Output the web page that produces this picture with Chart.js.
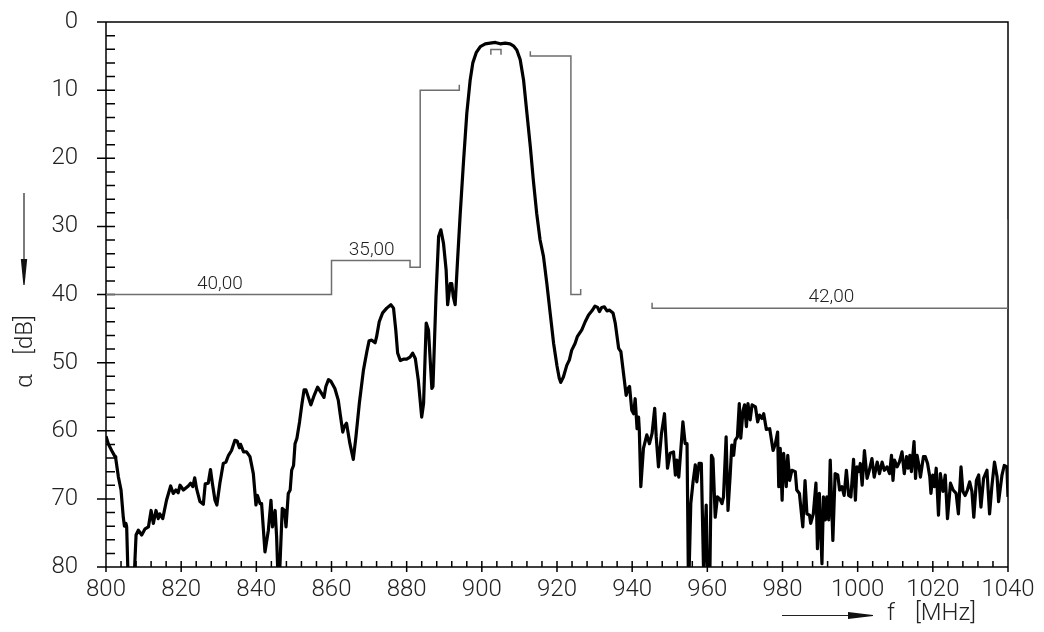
<!DOCTYPE html>
<html>
<head>
<meta charset="utf-8">
<script src="https://cdn.jsdelivr.net/npm/chart.js@4/dist/chart.umd.min.js"></script>
<style>
  html, body { margin: 0; padding: 0; background: #fff; }
  canvas { display: block; }
</style>
</head>
<body>
<canvas id="chart" width="1044" height="632"></canvas>
<script>
// measured attenuation curve, f in MHz, alpha in dB (values > 80 run off the axis)
const freq = [
  800.0, 800.6, 801.5, 802.4, 802.6, 803.3, 804.0, 804.6, 804.9, 805.3, 805.5, 806.0, 807.3, 808.0, 808.6, 809.5,
  810.4, 811.3, 812.0, 812.6, 813.3, 813.9, 814.3, 815.1, 816.1, 817.2, 817.9, 818.6, 819.2, 819.7, 820.6, 821.9,
  822.5, 823.1, 823.6, 824.1, 825.0, 825.9, 826.4, 827.2, 827.8, 828.3, 829.0, 829.5, 830.3, 831.2, 831.9, 832.6,
  833.4, 834.3, 834.9, 835.5, 835.8, 836.6, 837.4, 838.3, 839.2, 839.9, 840.3, 841.0, 841.4, 842.3, 843.2, 843.9,
  844.3, 845.0, 845.4, 845.9, 846.3, 846.9, 847.5, 847.9, 848.5, 849.0, 849.4, 849.9, 850.3, 850.8, 851.5, 852.1,
  852.7, 853.2, 854.5, 855.4, 856.3, 857.1, 858.0, 858.5, 859.2, 859.8, 860.9, 861.8, 862.3, 863.0, 863.4, 864.0,
  864.9, 865.8, 866.5, 867.4, 868.5, 869.4, 870.0, 870.7, 871.6, 872.0, 872.7, 873.6, 874.7, 875.8, 876.5, 877.1,
  877.6, 878.3, 879.1, 880.0, 880.9, 881.6, 882.3, 883.1, 884.0, 884.5, 885.2, 885.8, 886.7, 887.0, 887.8, 888.5,
  889.1, 889.8, 890.5, 890.9, 891.6, 892.0, 892.4, 892.9, 893.5, 894.2, 895.1, 896.0, 896.9, 897.6, 898.5, 899.6,
  900.9, 902.2, 903.6, 904.9, 906.2, 907.5, 908.4, 909.3, 910.2, 911.1, 912.0, 912.9, 913.7, 914.6, 915.5, 916.4,
  917.3, 918.2, 919.1, 920.0, 920.6, 921.0, 921.7, 922.6, 923.3, 923.9, 924.8, 925.4, 926.6, 927.5, 928.4, 929.3,
  930.1, 930.8, 931.3, 931.9, 932.6, 933.3, 934.0, 934.9, 935.5, 936.4, 937.0, 937.7, 938.4, 938.9, 939.3, 939.9,
  940.4, 940.8, 941.3, 941.7, 941.9, 942.3, 943.0, 943.9, 944.6, 945.3, 946.0, 946.4, 947.0, 947.8, 948.6, 949.4,
  950.1, 951.0, 951.5, 951.9, 952.4, 953.5, 954.1, 954.6, 955.0, 955.6, 956.2, 956.8, 957.2, 957.8, 958.4, 959.0,
  959.7, 960.1, 960.6, 961.1, 961.5, 962.1, 962.7, 963.3, 963.9, 964.3, 965.0, 965.5, 966.1, 966.5, 967.0, 967.4,
  968.0, 968.5, 968.9, 969.5, 969.9, 970.4, 970.8, 971.4, 971.9, 972.8, 973.4, 973.9, 974.5, 975.0, 975.7, 976.6,
  977.5, 978.1, 978.7, 979.0, 979.4, 979.9, 980.3, 981.0, 981.4, 981.9, 982.5, 983.4, 983.8, 984.5, 985.4, 986.0,
  986.5, 987.2, 987.5, 988.2, 988.9, 989.3, 989.8, 990.5, 990.9, 991.4, 991.8, 992.3, 992.7, 993.4, 994.0, 994.7,
  995.2, 995.8, 996.4, 997.0, 997.6, 998.2, 998.9, 999.4, 999.8, 1000.3, 1000.7, 1001.2, 1001.8, 1002.5, 1003.1, 1003.8,
  1004.4, 1005.2, 1005.8, 1006.5, 1007.1, 1007.8, 1008.5, 1009.0, 1009.4, 1009.8, 1010.5, 1011.1, 1011.8, 1012.4, 1013.0, 1013.4,
  1013.9, 1014.3, 1015.0, 1015.4, 1015.8, 1016.3, 1016.7, 1017.5, 1018.0, 1018.6, 1019.2, 1019.5, 1020.0, 1020.4, 1020.9, 1021.5,
  1022.0, 1022.7, 1023.3, 1023.9, 1024.7, 1025.4, 1026.2, 1026.8, 1027.5, 1028.0, 1028.6, 1029.2, 1029.8, 1030.4, 1030.9, 1031.6,
  1032.2, 1032.8, 1033.5, 1034.4, 1035.1, 1035.7, 1036.4, 1037.1, 1037.5, 1038.4, 1039.0, 1039.7, 1040.0
];
const atten = [
  60.8, 61.9, 62.9, 63.8, 64.1, 66.8, 68.7, 72.7, 74.0, 73.6, 74.1, 84, 84, 75.3, 74.6, 75.3,
  74.4, 74.1, 71.7, 73.6, 71.7, 72.9, 72.2, 72.9, 70.2, 68.1, 69.2, 68.7, 69.1, 68.0, 68.7, 68.1,
  67.7, 68.2, 66.9, 68.5, 70.4, 70.8, 67.8, 67.7, 65.7, 67.7, 70.2, 70.9, 67.7, 64.8, 64.6, 63.6,
  62.9, 61.4, 61.5, 62.5, 62.0, 63.1, 63.1, 63.8, 66.3, 70.9, 69.5, 70.7, 70.7, 77.8, 74.6, 70.2,
  74.1, 71.7, 75.6, 84, 79.5, 71.4, 71.7, 74.1, 69.2, 68.7, 65.8, 65.1, 61.9, 61.1, 58.7, 56.2,
  54.0, 54.0, 56.2, 54.8, 53.6, 54.3, 55.1, 53.5, 52.5, 52.7, 53.8, 55.5, 57.5, 60.2, 59.4, 58.9,
  61.9, 64.2, 60.9, 56.0, 51.1, 48.4, 46.8, 46.7, 47.1, 46.2, 44.0, 42.7, 42.0, 41.5, 42.0, 45.2,
  48.6, 49.7, 49.5, 49.5, 49.2, 48.6, 49.4, 52.6, 58.0, 56.0, 44.2, 45.2, 53.8, 53.5, 40.3, 31.5,
  30.5, 32.5, 36.4, 41.5, 38.4, 38.4, 40.3, 41.5, 35.4, 28.6, 20.7, 13.4, 8.5, 6.0, 4.5, 3.6,
  3.2, 3.1, 3.0, 3.2, 3.1, 3.2, 3.5, 4.1, 5.5, 8.5, 13.4, 18.3, 23.2, 28.1, 32.0, 34.4,
  38.4, 42.8, 47.2, 50.5, 52.3, 52.9, 52.1, 50.4, 49.6, 48.2, 47.2, 46.2, 45.2, 44.0, 43.0, 42.4,
  41.7, 41.9, 42.5, 41.9, 41.8, 42.4, 42.3, 42.7, 44.2, 47.9, 48.4, 51.6, 54.8, 53.8, 53.5, 57.0,
  57.5, 55.3, 59.7, 58.0, 59.9, 68.2, 62.6, 60.6, 61.9, 60.4, 56.7, 60.9, 65.3, 60.4, 57.5, 65.5,
  63.3, 63.1, 66.5, 64.3, 66.8, 58.7, 61.9, 61.9, 84, 70.7, 67.5, 65.0, 67.5, 64.8, 64.8, 80.5,
  70.9, 84, 84, 63.6, 64.1, 72.7, 69.7, 70.0, 70.7, 69.7, 60.9, 71.7, 66.3, 62.1, 63.6, 61.4,
  60.9, 56.0, 61.1, 57.0, 56.2, 59.4, 56.0, 58.4, 56.2, 56.5, 58.7, 57.7, 58.2, 57.5, 59.8, 59.7,
  62.9, 61.9, 60.2, 68.2, 62.6, 70.2, 63.3, 68.2, 63.6, 67.3, 65.8, 66.0, 68.7, 69.2, 74.1, 67.3,
  72.2, 72.4, 73.6, 72.2, 67.7, 77.3, 69.2, 79.5, 69.7, 73.1, 69.7, 73.1, 64.3, 76.1, 66.3, 66.5,
  68.7, 68.2, 69.5, 65.8, 69.5, 69.7, 64.2, 70.2, 65.3, 66.0, 64.8, 68.0, 62.9, 67.0, 65.8, 64.1,
  66.8, 64.6, 66.3, 64.6, 65.8, 65.3, 66.3, 63.6, 67.3, 64.3, 65.3, 64.6, 63.1, 66.3, 63.8, 65.5,
  63.6, 66.0, 61.6, 67.0, 63.6, 65.1, 66.8, 63.8, 63.8, 64.8, 66.8, 69.2, 66.5, 68.2, 65.5, 72.4,
  66.3, 68.9, 66.5, 72.9, 67.7, 68.7, 69.2, 72.2, 65.3, 68.9, 69.5, 68.7, 67.5, 68.9, 72.7, 67.3,
  66.5, 71.2, 67.0, 65.8, 72.2, 68.2, 64.6, 66.8, 70.4, 66.5, 65.1, 65.3, 69.7
];

// tolerance mask (null breaks the line into pieces)
const maskFreq  = [800, 860, 860, 880.9, 880.9, 883.6, 883.6, 894, 894, 894,
                   902.4, 902.4, 905.1, 905.1, 905.1,
                   912.9, 912.9, 923.7, 923.7, 926.3, 926.3, 926.3,
                   945.3, 945.3, 1040, 1040];
const maskAtten = [40, 40, 35, 35, 36, 36, 10, 10, 9.2, null,
                   4.8, 4.05, 4.05, 4.8, null,
                   4.3, 5, 5, 40, 40, 39.2, null,
                   41.2, 42, 42, 29];

// mask level labels
const maskLabelText  = ["40,00", "35,00", "42,00"];
const maskLabelFreq  = [830.3, 870.7, 993];
const maskLabelAtten = [40, 35, 42];

const FONT = "Roboto";

const curveData = freq.map((f, i) => ({ x: f, y: atten[i] }));
const maskData = maskFreq.map((f, i) => ({ x: f, y: maskAtten[i] }));

// frame, inward ticks, labels and axis arrows
const framePlugin = {
  id: "frame",
  beforeDatasetsDraw(chart) {
    const { ctx, chartArea: a, scales } = chart;
    const x = scales.x, y = scales.y;
    ctx.save();
    ctx.strokeStyle = "#000";
    ctx.lineWidth = 1.5;
    ctx.beginPath();
    ctx.moveTo(a.left, a.top);
    ctx.lineTo(a.right, a.top);
    ctx.lineTo(a.right, a.bottom);
    ctx.lineTo(a.left, a.bottom);
    ctx.lineTo(a.left, a.top);
    y.ticks.forEach((t) => {
      const py = y.getPixelForValue(t.value);
      const major = t.value % 10 === 0;
      ctx.moveTo(major ? a.left - 9 : a.left, py);
      ctx.lineTo(a.left + 9, py);
    });
    x.ticks.forEach((t) => {
      const px = x.getPixelForValue(t.value);
      const major = t.value % 20 === 0;
      ctx.moveTo(px, a.bottom - 6);
      ctx.lineTo(px, major ? a.bottom + 5 : a.bottom);
    });
    ctx.stroke();
    ctx.restore();
  },
  afterDraw(chart) {
    const { ctx, scales } = chart;
    const x = scales.x, y = scales.y;
    ctx.save();
    ctx.fillStyle = "#222";
    ctx.font = "300 19px " + FONT;
    ctx.textAlign = "center";
    ctx.textBaseline = "bottom";
    maskLabelText.forEach((txt, i) => {
      ctx.fillText(txt, x.getPixelForValue(maskLabelFreq[i]), y.getPixelForValue(maskLabelAtten[i]) - 1);
    });

    // y title with arrow
    ctx.font = "300 24px " + FONT;
    ctx.save();
    ctx.translate(26, 350);
    ctx.rotate(-Math.PI / 2);
    ctx.textAlign = "center";
    ctx.textBaseline = "middle";
    ctx.fillText("\u03b1", -31, 0);
    ctx.fillText("[dB]", 15, 0);
    ctx.restore();

    ctx.strokeStyle = "#222";
    ctx.lineWidth = 1.2;
    ctx.beginPath();
    ctx.moveTo(24, 193);
    ctx.lineTo(24, 262);
    ctx.stroke();
    ctx.fillStyle = "#111";
    ctx.beginPath();
    ctx.moveTo(20.8, 259);
    ctx.lineTo(27.2, 259);
    ctx.lineTo(24.6, 285);
    ctx.lineTo(23.4, 285);
    ctx.closePath();
    ctx.fill();

    // x title with arrow
    ctx.beginPath();
    ctx.moveTo(782, 615.5);
    ctx.lineTo(850, 615.5);
    ctx.stroke();
    ctx.beginPath();
    ctx.moveTo(848, 612);
    ctx.lineTo(848, 619);
    ctx.lineTo(873, 616);
    ctx.lineTo(873, 615);
    ctx.closePath();
    ctx.fill();

    ctx.fillStyle = "#222";
    ctx.textAlign = "left";
    ctx.textBaseline = "middle";
    ctx.fillText("f", 887, 614);
    ctx.fillText("[MHz]", 915, 614);
    ctx.restore();
  },
};

new Chart(document.getElementById("chart"), {
  type: "line",
  data: {
    datasets: [
      {
        label: "alpha",
        data: curveData,
        borderColor: "#000",
        borderWidth: 3.2,
        borderJoinStyle: "round",
        pointRadius: 0,
        tension: 0,
      },
      {
        label: "mask",
        data: maskData,
        borderColor: "#6e6e6e",
        borderWidth: 1.5,
        pointRadius: 0,
        tension: 0,
        spanGaps: false,
      },
    ],
  },
  options: {
    responsive: false,
    animation: false,
    devicePixelRatio: 1,
    layout: { padding: { top: 22, right: 36, left: 0, bottom: 0 } },
    plugins: {
      legend: { display: false },
      tooltip: { enabled: false },
    },
    scales: {
      x: {
        type: "linear",
        min: 800,
        max: 1040,
        border: { display: false },
        grid: { display: false },
        ticks: {
          stepSize: 4,
          autoSkip: false,
          maxRotation: 0,
          padding: 1,
          color: "#222",
          font: { family: FONT, size: 24, weight: "300" },
          callback: (v) => (v % 20 === 0 ? String(v) : ""),
        },
        afterFit: (s) => {
          s.height = 65;
          s.paddingLeft = 0;
          s.paddingRight = 0;
        },
      },
      y: {
        type: "linear",
        reverse: true,
        min: 0,
        max: 80,
        border: { display: false },
        grid: { display: false },
        ticks: {
          stepSize: 2,
          autoSkip: false,
          padding: 20,
          color: "#222",
          font: { family: FONT, size: 24, weight: "300" },
          callback: (v) => (v % 10 === 0 ? String(v) : ""),
        },
        afterFit: (s) => {
          s.width = 106;
          s.paddingTop = 0;
          s.paddingBottom = 0;
        },
      },
    },
  },
  plugins: [framePlugin],
});
</script>
</body>
</html>
